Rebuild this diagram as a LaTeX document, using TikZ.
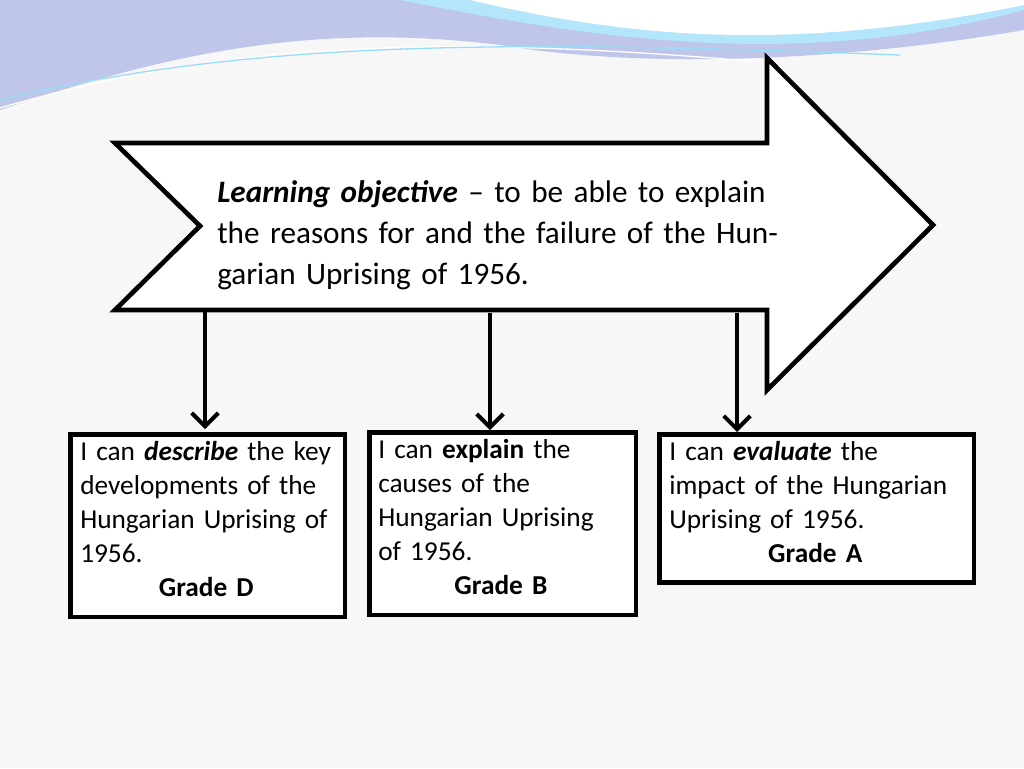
\documentclass[tikz,border=0pt]{standalone}
\usepackage{fontspec}
\setmainfont{Carlito}
\usetikzlibrary{arrows.meta}
\newcommand{\nohy}{\hyphenpenalty=10000 \exhyphenpenalty=10000 }
\begin{document}
\begin{tikzpicture}[x=0.75pt,y=-0.75pt,
  frame/.style={draw=black,line width=3.5pt,fill=white},
  conn/.style={line width=3.5pt,-{Straight Barb[length=10pt,width=20pt,line width=3pt]}},
  boxtext/.style={text width=#1,inner sep=0pt,anchor=north west,font=\fontsize{20.5}{25.5}\selectfont}]
\useasboundingbox (0,0) rectangle (1024,768);
\fill[gray!6] (0,0) rectangle (1024,768);
% top waves
\fill[cyan!35!blue!25] (0,0) -- (1024,0) -- (1024,30) .. controls (850,60) and (650,70) .. (500,45) .. controls (300,20) and (150,60) .. (0,110) -- cycle;
\fill[cyan!30] (400,0) .. controls (600,40) and (800,70) .. (1024,10) -- (1024,0) -- cycle;
\fill[white] (470,0) .. controls (620,35) and (780,55) .. (1024,5) -- (1024,0) -- cycle;
\draw[white,line width=1pt] (0,108) .. controls (200,50) and (400,30) .. (760,62);
\draw[cyan!40,line width=1pt] (0,100) .. controls (250,40) and (500,40) .. (900,55);
% big arrow
\draw[frame,line join=miter] (115,143) -- (767,143) -- (767,58) -- (933,225) -- (767,390) -- (767,310) -- (115,310) -- (200,226) -- cycle;
\node[anchor=north west,inner sep=0pt,text width=437pt,font=\fontsize{23.4}{30.75}\selectfont] (title) at (217,180)
 {\nohy\textbf{\textit{Learning objective}} – to be able to explain the reasons for and the failure of the Hungarian Uprising of 1956.};
% boxes
\node[frame,minimum width=206pt,minimum height=137pt,anchor=north west,inner sep=0pt] (b1) at (68,432) {};
\node[frame,minimum width=200pt,minimum height=137pt,anchor=north west,inner sep=0pt] (b2) at (367,430) {};
\node[frame,minimum width=236pt,minimum height=111pt,anchor=north west,inner sep=0pt] (b3) at (657,432) {};
\node[boxtext=189pt] (t1) at (80,441) {\nohy I can \textbf{\textit{describe}} the key developments of the Hungarian Uprising of 1956.\par{\centering\textbf{Grade D}\par}};
\node[boxtext=184pt] (t2) at (378,439) {\nohy I can \textbf{explain} the causes of the Hungarian Uprising of 1956.\par{\centering\textbf{Grade B}\par}};
\node[boxtext=219pt] (t3) at (669,441) {\nohy I can \textbf{\textit{evaluate}} the impact of the Hungarian Uprising of 1956.\par{\centering\textbf{Grade A}\par}};
% connectors
\coordinate (s1) at (205,310); \coordinate (s2) at (490,313); \coordinate (s3) at (737,313);
\draw[conn] (s1) -- (205,429);
\draw[conn] (s2) -- (b2.north -| s2);
\draw[conn] (s3) -- (b3.north -| s3);
\end{tikzpicture}
\end{document}
